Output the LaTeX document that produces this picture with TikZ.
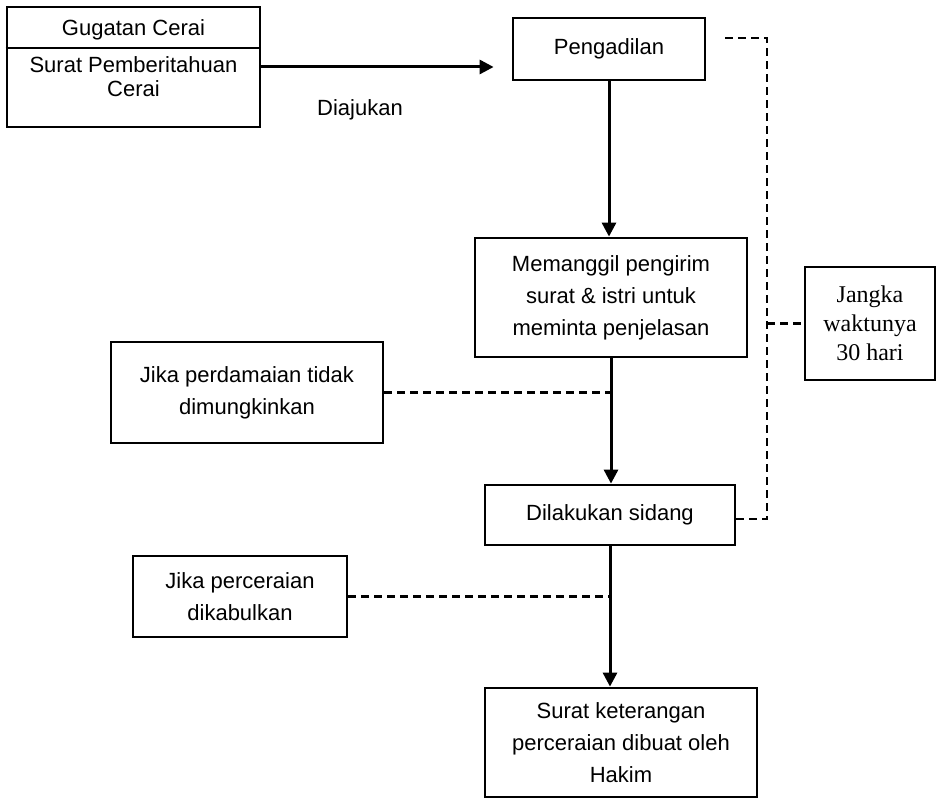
\documentclass[tikz,border=0pt]{standalone}
\usepackage{fontspec}
\setmainfont{Liberation Sans}
\newfontfamily\jserif{Liberation Serif}
\usepackage{tikz}
\usetikzlibrary{arrows.meta,positioning,calc}
\tikzset{
  bbox/.style={draw, line width=1.4pt, inner sep=0pt, align=center, font=\fontsize{11}{16}\selectfont},
  sbox/.style={bbox, font=\jserif\fontsize{12}{14.5}\selectfont},
  txt/.style={inner sep=0pt, align=center, font=\fontsize{11}{12}\selectfont},
  farr/.style={-{Triangle[length=7pt, width=7pt]}, line width=1.5pt},
  dln/.style={dash pattern=on 4pt off 2.5pt, line width=1.1pt},
}

\begin{document}
\begin{tikzpicture}[x=0.5pt,y=-0.5pt]
\useasboundingbox (0,0) rectangle (938,806);
% boxes
\node[bbox, minimum width=126.5pt, minimum height=60pt] (gugatan) at (133.5,67) {};
\draw[line width=1.1pt] (gugatan.west |- 0,48) -- (gugatan.east |- 0,48);
\node[txt] (tgugatan) at (133.5,30) {Gugatan Cerai};
\node[txt] (tsurat) at (133.5,77) {Surat Pemberitahuan\\Cerai};
\node[bbox, minimum width=96pt, minimum height=31pt] (pengadilan) at (609,49) {Pengadilan};
\node[txt] (diajukan) at (360,110) {Diajukan};
\node[bbox, minimum width=136pt, minimum height=59.5pt] (memanggil) at (611,297.5)
  {Memanggil pengirim\\surat \& istri untuk\\meminta penjelasan};
\node[sbox, minimum width=65pt, minimum height=56.5pt] (jangka) at (870,323.5) {Jangka\\waktunya\\30 hari};
\node[bbox, minimum width=136pt, minimum height=50.5pt] (perdamaian) at (247,392.5) {Jika perdamaian tidak\\dimungkinkan};
\node[bbox, minimum width=125pt, minimum height=30pt] (dilakukan) at (610,515) {Dilakukan sidang};
\node[bbox, minimum width=107pt, minimum height=40.5pt] (perceraian) at (240,596.5) {Jika perceraian\\dikabulkan};
\node[bbox, minimum width=136pt, minimum height=54.5pt] (suratket) at (621,742.5)
  {Surat keterangan\\perceraian dibuat oleh\\Hakim};
% flow
\draw[farr, shorten >=9pt] (gugatan.east) -- (pengadilan.west |- gugatan.east);
\draw[farr] (pengadilan.south) -- (pengadilan.south |- memanggil.north);
\draw[farr] (memanggil.south) -- (memanggil.south |- dilakukan.north);
\draw[farr] (dilakukan.south) -- (dilakukan.south |- suratket.north);
% dashed links
\coordinate (railtop) at (767,38);
\coordinate (railbot) at (767,519);
\draw[dln, shorten <=9.5pt] (pengadilan.east |- railtop) -- (railtop) -- (railbot) -- (dilakukan.east |- railbot);
\draw[dln] (railtop |- jangka.west) -- (jangka.west);
\draw[dln] (perdamaian.east) -- (memanggil.south |- perdamaian.east);
\draw[dln] (perceraian.east) -- (dilakukan.south |- perceraian.east);
\end{tikzpicture}
\end{document}
